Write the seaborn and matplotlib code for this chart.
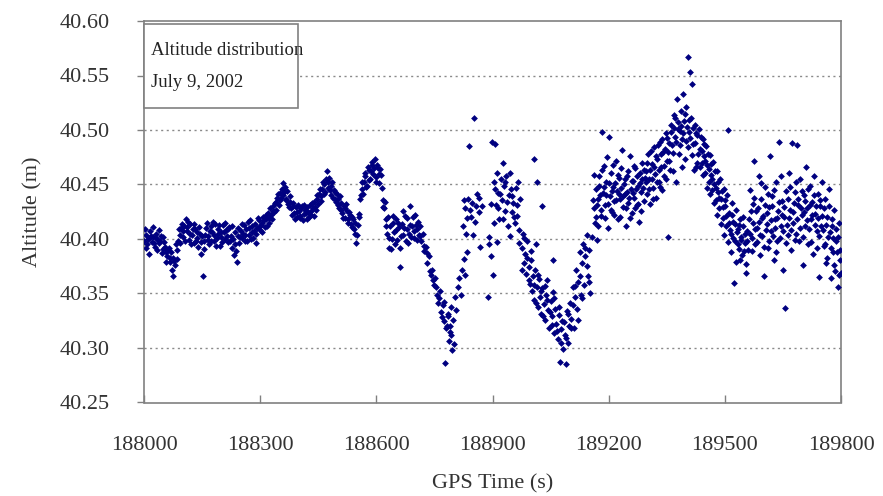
import matplotlib
matplotlib.use("Agg")
import matplotlib.pyplot as plt
import seaborn as sns
import pandas as pd
from matplotlib.ticker import FormatStrFormatter, FixedLocator
from matplotlib.patches import Rectangle

# ---- data (GPS time [s], altitude [m]) ----
t_a = [188000, 188004, 188008, 188012, 188016, 188020, 188024, 188028, 188032, 188036,
       188040, 188044, 188048, 188052, 188056, 188060, 188064, 188068, 188072, 188076,
       188080, 188084, 188088, 188092, 188096]
alt_a = [40.398, 40.404, 40.395, 40.401, 40.407, 40.397, 40.402, 40.393, 40.405, 40.399,
         40.396, 40.403, 40.391, 40.397, 40.388, 40.384, 40.392, 40.379, 40.372, 40.383,
         40.376, 40.390, 40.398, 40.404, 40.410]
t_a2 = [188002, 188006, 188010, 188014, 188018, 188022, 188026, 188030, 188034, 188038,
        188042, 188046, 188050, 188054, 188058, 188062, 188066, 188070, 188074, 188078,
        188082, 188086, 188090, 188094, 188098]
alt_a2 = [40.409, 40.392, 40.400, 40.386, 40.403, 40.411, 40.396, 40.401, 40.390, 40.408,
          40.398, 40.387, 40.402, 40.393, 40.379, 40.390, 40.383, 40.388, 40.366, 40.380,
          40.395, 40.382, 40.409, 40.396, 40.414]

t_b = [188100, 188104, 188108, 188112, 188116, 188120, 188124, 188128, 188132, 188136,
       188140, 188144, 188148, 188152, 188156, 188160, 188164, 188168, 188172, 188176,
       188180, 188184, 188188, 188192, 188196, 188200, 188204, 188208, 188212, 188216,
       188220, 188224, 188228, 188232, 188236, 188240, 188244, 188248, 188252, 188256,
       188260, 188264, 188268, 188272, 188276, 188280, 188284, 188288, 188292, 188296]
alt_b = [40.402, 40.412, 40.418, 40.407, 40.399, 40.414, 40.404, 40.396, 40.409, 40.401,
         40.393, 40.405, 40.386, 40.366, 40.398, 40.410, 40.403, 40.395, 40.412, 40.406,
         40.398, 40.414, 40.401, 40.409, 40.394, 40.406, 40.413, 40.400, 40.408, 40.397,
         40.411, 40.403, 40.392, 40.385, 40.406, 40.379, 40.410, 40.402, 40.414, 40.405,
         40.398, 40.409, 40.416, 40.404, 40.400, 40.412, 40.407, 40.396, 40.410, 40.417]
t_b2 = [188102, 188106, 188110, 188114, 188118, 188122, 188126, 188130, 188134, 188138,
        188142, 188146, 188150, 188154, 188158, 188162, 188166, 188170, 188174, 188178,
        188182, 188186, 188190, 188194, 188198, 188202, 188206, 188210, 188214, 188218,
        188222, 188226, 188230, 188234, 188238, 188242, 188246, 188250, 188254, 188258,
        188262, 188266, 188270, 188274, 188278, 188282, 188286, 188290, 188294, 188298]
alt_b2 = [40.407, 40.398, 40.411, 40.416, 40.405, 40.395, 40.409, 40.414, 40.398, 40.406,
          40.411, 40.397, 40.403, 40.391, 40.404, 40.415, 40.399, 40.407, 40.398, 40.416,
          40.404, 40.394, 40.405, 40.413, 40.402, 40.397, 40.406, 40.415, 40.403, 40.409,
          40.398, 40.412, 40.400, 40.395, 40.389, 40.403, 40.396, 40.407, 40.401, 40.413,
          40.404, 40.398, 40.410, 40.417, 40.406, 40.401, 40.414, 40.405, 40.419, 40.411]

t_c = [188300, 188304, 188308, 188312, 188316, 188320, 188324, 188328, 188332, 188336,
       188340, 188344, 188348, 188352, 188356, 188360, 188364, 188368, 188372, 188376,
       188380, 188384, 188388, 188392, 188396]
alt_c = [40.408, 40.415, 40.420, 40.411, 40.418, 40.424, 40.415, 40.422, 40.430, 40.425,
         40.434, 40.438, 40.431, 40.442, 40.446, 40.440, 40.448, 40.437, 40.432, 40.439,
         40.428, 40.433, 40.424, 40.429, 40.420]
t_c2 = [188302, 188306, 188310, 188314, 188318, 188322, 188326, 188330, 188334, 188338,
        188342, 188346, 188350, 188354, 188358, 188362, 188366, 188370, 188374, 188378,
        188382, 188386, 188390, 188394, 188398]
alt_c2 = [40.413, 40.406, 40.417, 40.422, 40.412, 40.419, 40.428, 40.418, 40.426, 40.433,
          40.427, 40.441, 40.436, 40.438, 40.451, 40.443, 40.436, 40.444, 40.429, 40.434,
          40.422, 40.430, 40.418, 40.425, 40.431]

t_d = [188400, 188404, 188408, 188412, 188416, 188420, 188424, 188428, 188432, 188436,
       188440, 188444, 188448, 188452, 188456, 188460, 188464, 188468, 188472, 188476,
       188480, 188484, 188488, 188492, 188496]
alt_d = [40.426, 40.419, 40.430, 40.423, 40.427, 40.418, 40.425, 40.431, 40.422, 40.428,
         40.434, 40.427, 40.437, 40.441, 40.435, 40.446, 40.450, 40.443, 40.462, 40.452,
         40.445, 40.449, 40.438, 40.443, 40.434]
t_d2 = [188402, 188406, 188410, 188414, 188418, 188422, 188426, 188430, 188434, 188438,
        188442, 188446, 188450, 188454, 188458, 188462, 188466, 188470, 188474, 188478,
        188482, 188486, 188490, 188494, 188498]
alt_d2 = [40.421, 40.428, 40.417, 40.431, 40.424, 40.429, 40.420, 40.426, 40.433, 40.421,
          40.429, 40.440, 40.432, 40.446, 40.439, 40.452, 40.441, 40.455, 40.447, 40.456,
          40.440, 40.452, 40.445, 40.437, 40.441]

t_e = [188500, 188504, 188508, 188512, 188516, 188520, 188524, 188528, 188532, 188536,
       188540, 188544, 188548, 188552, 188556]
alt_e = [40.437, 40.428, 40.433, 40.424, 40.430, 40.419, 40.426, 40.415, 40.422, 40.411,
         40.418, 40.405, 40.396, 40.413, 40.420]
t_e2 = [188502, 188506, 188510, 188514, 188518, 188522, 188526, 188530, 188534, 188538,
        188542, 188546, 188550, 188554, 188558]
alt_e2 = [40.431, 40.439, 40.427, 40.419, 40.428, 40.432, 40.418, 40.425, 40.414, 40.420,
          40.409, 40.415, 40.404, 40.423, 40.437]

t_f = [188560, 188564, 188568, 188572, 188576, 188580, 188584, 188588, 188592, 188596,
       188600, 188604, 188608, 188612]
alt_f = [40.440, 40.446, 40.452, 40.458, 40.449, 40.463, 40.455, 40.468, 40.460, 40.473,
         40.457, 40.465, 40.451, 40.459]
t_f2 = [188562, 188566, 188570, 188574, 188578, 188582, 188586, 188590, 188594, 188598,
        188602, 188606, 188610, 188614]
alt_f2 = [40.452, 40.441, 40.461, 40.448, 40.466, 40.454, 40.462, 40.471, 40.465, 40.452,
          40.468, 40.460, 40.464, 40.447]

t_g = [188616, 188620, 188624, 188628, 188632, 188636, 188640, 188644, 188648, 188652,
       188656, 188660, 188664, 188668, 188672, 188676, 188680, 188684, 188688, 188692,
       188696, 188700, 188704, 188708]
alt_g = [40.436, 40.428, 40.418, 40.405, 40.392, 40.412, 40.400, 40.421, 40.395, 40.408,
         40.415, 40.374, 40.403, 40.426, 40.410, 40.398, 40.419, 40.405, 40.430, 40.412,
         40.401, 40.422, 40.409, 40.416]
t_g2 = [188618, 188622, 188626, 188630, 188634, 188638, 188642, 188646, 188650, 188654,
        188658, 188662, 188666, 188670, 188674, 188678, 188682, 188686, 188690, 188694,
        188698, 188702, 188706, 188710]
alt_g2 = [40.429, 40.434, 40.412, 40.420, 40.401, 40.391, 40.415, 40.406, 40.418, 40.399,
          40.411, 40.392, 40.414, 40.404, 40.421, 40.409, 40.396, 40.413, 40.402, 40.420,
          40.407, 40.413, 40.399, 40.404]

t_h = [188712, 188716, 188720, 188724, 188728, 188732, 188736, 188740, 188744, 188748,
       188752, 188756, 188760, 188764, 188768, 188772, 188776, 188778, 188780, 188784,
       188788, 188792, 188796, 188800]
alt_h = [40.412, 40.398, 40.405, 40.389, 40.393, 40.378, 40.384, 40.367, 40.372, 40.358,
         40.364, 40.349, 40.341, 40.352, 40.333, 40.339, 40.325, 40.286, 40.318, 40.329,
         40.306, 40.312, 40.298, 40.304]
t_h2 = [188714, 188722, 188730, 188738, 188746, 188754, 188762, 188770, 188774, 188790]
alt_h2 = [40.403, 40.394, 40.387, 40.371, 40.362, 40.356, 40.346, 40.328, 40.342, 40.320]

t_i = [188782, 188786, 188790, 188794, 188798, 188802, 188806, 188810, 188814, 188818,
       188822, 188826, 188830, 188834]
alt_i = [40.320, 40.331, 40.315, 40.338, 40.326, 40.347, 40.335, 40.356, 40.364, 40.349,
         40.372, 40.382, 40.367, 40.388]

t_j = [188824, 188828, 188832, 188836, 188840, 188844, 188848, 188852, 188856, 188860,
       188864, 188868, 188872, 188826, 188834, 188842, 188850, 188858, 188866]
alt_j = [40.412, 40.428, 40.405, 40.437, 40.485, 40.420, 40.433, 40.511, 40.416, 40.441,
         40.425, 40.393, 40.430, 40.436, 40.419, 40.427, 40.404, 40.430, 40.438]

t_k = [188888, 188892, 188895, 188898, 188901, 188904, 188906, 188909, 188912, 188915,
       188918, 188921, 188924, 188927, 188930, 188933, 188936, 188939, 188942, 188945,
       188948, 188951, 188954, 188957, 188960, 188963, 188966, 188969, 188972,
       189007, 189015, 189028]
alt_k = [40.347, 40.395, 40.384, 40.489, 40.367, 40.452, 40.487, 40.431, 40.461, 40.442,
         40.418, 40.455, 40.436, 40.470, 40.449, 40.426, 40.458, 40.412, 40.440, 40.403,
         40.446, 40.425, 40.433, 40.415, 40.447, 40.421, 40.452, 40.408, 40.437,
         40.473, 40.452, 40.430]
t_k2 = [188890, 188897, 188903, 188907, 188911, 188914, 188920, 188926, 188932, 188938,
        188944, 188950, 188956, 188962, 188968]
alt_k2 = [40.402, 40.432, 40.415, 40.446, 40.397, 40.428, 40.441, 40.418, 40.452, 40.434,
          40.461, 40.439, 40.420, 40.431, 40.396]

t_l = [188975, 188978, 188981, 188984, 188987, 188990, 188993, 188996, 188999, 189002,
       189005, 189008, 189011, 189014, 189017, 189020, 189023, 189026, 189029, 189032,
       189035, 189038, 189041, 189044, 189047, 189050, 189053, 189056, 189059, 189062,
       189065, 189068, 189071, 189074, 189077, 189080, 189083, 189086, 189089, 189092,
       189095, 189098, 189101, 189104, 189107, 189110, 189113, 189116, 189119, 189122,
       189125, 189128, 189131, 189134, 189137, 189140, 189143, 189146, 189149, 189152]
alt_l = [40.392, 40.405, 40.378, 40.386, 40.368, 40.398, 40.374, 40.359, 40.381, 40.352,
         40.366, 40.344, 40.372, 40.356, 40.338, 40.363, 40.347, 40.331, 40.355, 40.340,
         40.326, 40.349, 40.362, 40.335, 40.318, 40.343, 40.329, 40.351, 40.314, 40.336,
         40.322, 40.308, 40.330, 40.287, 40.317, 40.325, 40.299, 40.312, 40.285, 40.334,
         40.305, 40.320, 40.341, 40.327, 40.356, 40.318, 40.347, 40.372, 40.336, 40.361,
         40.388, 40.349, 40.378, 40.395, 40.358, 40.384, 40.404, 40.366, 40.390, 40.350]
t_l2 = [188976, 188982, 188988, 188994, 189000, 189006, 189012, 189018, 189024, 189030,
        189036, 189042, 189048, 189054, 189060, 189066, 189072, 189078, 189084, 189090,
        189096, 189102, 189108, 189114, 189120, 189126, 189132, 189138, 189144, 189150,
        189055, 189013]
alt_l2 = [40.372, 40.401, 40.383, 40.362, 40.389, 40.358, 40.341, 40.367, 40.352, 40.329,
          40.357, 40.344, 40.333, 40.321, 40.346, 40.316, 40.338, 40.305, 40.324, 40.309,
          40.331, 40.318, 40.339, 40.357, 40.326, 40.366, 40.346, 40.392, 40.375, 40.361,
          40.381, 40.395]

t_m = [189158, 189161, 189164, 189167, 189170, 189173, 189176, 189179, 189182, 189185,
       189188, 189191, 189194, 189197, 189200, 189203, 189206, 189209, 189212, 189215,
       189218, 189221, 189224, 189227, 189230, 189233, 189236, 189239, 189242, 189245,
       189248, 189251, 189254, 189257, 189260, 189263, 189266, 189269, 189272, 189275,
       189278, 189281, 189284, 189287, 189290, 189293]
alt_m = [40.402, 40.428, 40.415, 40.446, 40.399, 40.437, 40.458, 40.421, 40.498, 40.442,
         40.467, 40.431, 40.452, 40.410, 40.494, 40.439, 40.461, 40.425, 40.448, 40.435,
         40.472, 40.444, 40.418, 40.456, 40.437, 40.465, 40.429, 40.450, 40.441, 40.412,
         40.458, 40.433, 40.476, 40.446, 40.424, 40.453, 40.438, 40.465, 40.431, 40.449,
         40.416, 40.461, 40.443, 40.470, 40.435, 40.456]
t_m2 = [189159, 189163, 189166, 189169, 189172, 189175, 189178, 189181, 189184, 189187,
        189190, 189193, 189196, 189199, 189202, 189205, 189208, 189211, 189214, 189217,
        189220, 189223, 189226, 189229, 189232, 189235, 189238, 189241, 189244, 189247,
        189250, 189253, 189256, 189259, 189262, 189265, 189268, 189271, 189274, 189277,
        189280, 189283, 189286, 189289, 189292]
alt_m2 = [40.436, 40.459, 40.420, 40.431, 40.412, 40.449, 40.440, 40.427, 40.463, 40.448,
          40.419, 40.440, 40.475, 40.432, 40.451, 40.427, 40.444, 40.468, 40.422, 40.451,
          40.436, 40.459, 40.441, 40.420, 40.447, 40.482, 40.439, 40.455, 40.428, 40.443,
          40.462, 40.438, 40.419, 40.453, 40.442, 40.467, 40.428, 40.446, 40.458, 40.432,
          40.451, 40.426, 40.455, 40.447, 40.463]

t_n = [189296, 189299, 189302, 189305, 189308, 189311, 189314, 189317, 189320, 189323,
       189326, 189329, 189332, 189335, 189338, 189341, 189344, 189347, 189350, 189353,
       189356, 189359, 189362, 189365, 189368, 189371, 189374, 189377, 189380, 189383,
       189386, 189389, 189392, 189395, 189398, 189401, 189404, 189407, 189410, 189413,
       189416, 189419, 189422, 189425, 189428, 189431]
alt_n = [40.462, 40.441, 40.478, 40.455, 40.432, 40.469, 40.447, 40.484, 40.460, 40.438,
         40.473, 40.452, 40.489, 40.466, 40.445, 40.480, 40.458, 40.497, 40.472, 40.402,
         40.488, 40.463, 40.505, 40.479, 40.514, 40.494, 40.452, 40.528, 40.501, 40.486,
         40.517, 40.492, 40.533, 40.508, 40.473, 40.521, 40.567, 40.498, 40.553, 40.511,
         40.542, 40.487, 40.505, 40.466, 40.495, 40.478]
t_n2 = [189297, 189300, 189303, 189306, 189309, 189312, 189315, 189318, 189321, 189324,
        189327, 189330, 189333, 189336, 189339, 189342, 189345, 189348, 189351, 189354,
        189357, 189360, 189363, 189366, 189369, 189372, 189375, 189378, 189381, 189384,
        189387, 189390, 189393, 189396, 189399, 189402, 189405, 189408, 189411, 189414,
        189417, 189420, 189423, 189426, 189429]
alt_n2 = [40.452, 40.470, 40.446, 40.463, 40.481, 40.455, 40.437, 40.466, 40.476, 40.452,
          40.486, 40.463, 40.448, 40.478, 40.492, 40.467, 40.483, 40.455, 40.493, 40.480,
          40.472, 40.498, 40.486, 40.462, 40.502, 40.511, 40.489, 40.507, 40.478, 40.499,
          40.504, 40.466, 40.497, 40.515, 40.490, 40.503, 40.484, 40.509, 40.493, 40.477,
          40.502, 40.463, 40.488, 40.497, 40.470]

t_o = [189434, 189437, 189440, 189443, 189446, 189449, 189452, 189455, 189458, 189461,
       189464, 189467, 189470, 189473, 189476, 189479, 189482, 189485, 189488, 189491,
       189494, 189497, 189500, 189503, 189506, 189509, 189512, 189515, 189518, 189521,
       189524, 189527, 189530, 189533, 189536, 189539, 189542, 189545, 189548, 189551,
       189554, 189557, 189560]
alt_o = [40.501, 40.483, 40.470, 40.492, 40.476, 40.461, 40.485, 40.468, 40.452, 40.477,
         40.459, 40.445, 40.471, 40.450, 40.436, 40.462, 40.443, 40.428, 40.455, 40.437,
         40.419, 40.446, 40.430, 40.412, 40.440, 40.500, 40.424, 40.405, 40.433, 40.416,
         40.360, 40.398, 40.427, 40.409, 40.391, 40.418, 40.402, 40.385, 40.412, 40.396,
         40.377, 40.407, 40.390]
t_o2 = [189435, 189438, 189441, 189444, 189447, 189450, 189453, 189456, 189459, 189462,
        189465, 189468, 189471, 189474, 189477, 189480, 189483, 189486, 189489, 189492,
        189495, 189498, 189501, 189504, 189507, 189510, 189513, 189516, 189519, 189522,
        189525, 189528, 189531, 189534, 189537, 189540, 189543, 189546, 189549, 189552,
        189555, 189558]
alt_o2 = [40.466, 40.494, 40.481, 40.459, 40.487, 40.472, 40.447, 40.478, 40.464, 40.441,
          40.469, 40.455, 40.433, 40.462, 40.447, 40.422, 40.452, 40.438, 40.414, 40.444,
          40.429, 40.404, 40.436, 40.421, 40.397, 40.415, 40.408, 40.388, 40.422, 40.401,
          40.414, 40.379, 40.406, 40.395, 40.413, 40.381, 40.399, 40.420, 40.389, 40.405,
          40.369, 40.398]

t_p = [189563, 189566, 189569, 189572, 189575, 189578, 189581, 189584, 189587, 189590,
       189593, 189596, 189599, 189602, 189605, 189608, 189611, 189614, 189617, 189620,
       189623, 189626, 189629, 189632, 189635, 189638, 189641, 189644, 189647, 189650,
       189653, 189656, 189659, 189662, 189665, 189668, 189671, 189674, 189677, 189680,
       189683, 189686, 189689, 189692, 189695, 189698, 189701, 189704, 189707, 189710,
       189713, 189716, 189719, 189722, 189725, 189728, 189731, 189734, 189737, 189740,
       189743, 189746, 189749, 189752, 189755, 189758, 189761, 189764, 189767, 189770,
       189773, 189776, 189779, 189782, 189785, 189788, 189791, 189794, 189797, 189800]
alt_p = [40.418, 40.445, 40.401, 40.432, 40.472, 40.395, 40.426, 40.410, 40.458, 40.385,
         40.437, 40.403, 40.421, 40.366, 40.448, 40.414, 40.392, 40.429, 40.476, 40.407,
         40.439, 40.381, 40.418, 40.452, 40.398, 40.426, 40.489, 40.412, 40.435, 40.372,
         40.420, 40.337, 40.444, 40.404, 40.461, 40.427, 40.390, 40.488, 40.415, 40.443,
         40.405, 40.486, 40.431, 40.398, 40.455, 40.422, 40.376, 40.440, 40.412, 40.466,
         40.428, 40.395, 40.449, 40.418, 40.434, 40.386, 40.458, 40.423, 40.407, 40.441,
         40.365, 40.430, 40.412, 40.452, 40.394, 40.437, 40.378, 40.420, 40.402, 40.446,
         40.364, 40.412, 40.388, 40.427, 40.371, 40.398, 40.356, 40.415, 40.381, 40.369]
t_p2 = [189564, 189567, 189570, 189573, 189576, 189579, 189582, 189585, 189588, 189591,
        189594, 189597, 189600, 189603, 189606, 189609, 189612, 189615, 189618, 189621,
        189624, 189627, 189630, 189633, 189636, 189639, 189642, 189645, 189648, 189651,
        189654, 189657, 189660, 189663, 189666, 189669, 189672, 189675, 189678, 189681,
        189684, 189687, 189690, 189693, 189696, 189699, 189702, 189705, 189708, 189711,
        189714, 189717, 189720, 189723, 189726, 189729, 189732, 189735, 189738, 189741,
        189744, 189747, 189750, 189753, 189756, 189759, 189762, 189765, 189768, 189771,
        189774, 189777, 189780, 189783, 189786, 189789, 189792, 189795, 189798]
alt_p2 = [40.405, 40.426, 40.389, 40.415, 40.438, 40.409, 40.397, 40.428, 40.416, 40.404,
          40.451, 40.419, 40.393, 40.431, 40.408, 40.424, 40.441, 40.398, 40.417, 40.430,
          40.403, 40.445, 40.410, 40.388, 40.419, 40.434, 40.401, 40.458, 40.422, 40.407,
          40.429, 40.396, 40.413, 40.437, 40.419, 40.448, 40.408, 40.425, 40.433, 40.399,
          40.452, 40.418, 40.437, 40.410, 40.428, 40.444, 40.402, 40.425, 40.435, 40.417,
          40.446, 40.409, 40.431, 40.397, 40.422, 40.440, 40.413, 40.430, 40.392, 40.419,
          40.403, 40.436, 40.421, 40.408, 40.428, 40.395, 40.413, 40.383, 40.430, 40.406,
          40.392, 40.418, 40.401, 40.376, 40.409, 40.388, 40.402, 40.367, 40.390]

x_ticks = [188000, 188300, 188600, 188900, 189200, 189500, 189800]
y_ticks = [40.25, 40.30, 40.35, 40.40, 40.45, 40.50, 40.55, 40.60]
box_lines = ["Altitude distribution", "July 9, 2002"]

# ---- build table ----
times = (t_a + t_a2 + t_b + t_b2 + t_c + t_c2 + t_d + t_d2 + t_e + t_e2 + t_f + t_f2
         + t_g + t_g2 + t_h + t_h2 + t_i + t_j + t_k + t_k2 + t_l + t_l2
         + t_m + t_m2 + t_n + t_n2 + t_o + t_o2 + t_p + t_p2)
alts = (alt_a + alt_a2 + alt_b + alt_b2 + alt_c + alt_c2 + alt_d + alt_d2 + alt_e
        + alt_e2 + alt_f + alt_f2 + alt_g + alt_g2 + alt_h + alt_h2 + alt_i + alt_j
        + alt_k + alt_k2 + alt_l + alt_l2 + alt_m + alt_m2 + alt_n + alt_n2
        + alt_o + alt_o2 + alt_p + alt_p2)
df = pd.DataFrame({"GPS Time (s)": times, "Altitude (m)": alts})

sns.set_theme(style="white")
plt.rcParams["font.family"] = ["Liberation Serif", "DejaVu Serif"]

fig = plt.figure(figsize=(8.83, 4.96), dpi=100)
ax = fig.add_axes([144 / 883, 1 - 402.5 / 496, (841 - 144) / 883, (402.5 - 21) / 496])

sns.scatterplot(data=df, x="GPS Time (s)", y="Altitude (m)", ax=ax,
                color="#000080", marker="D", s=12, linewidth=0, zorder=3)

ax.set_xlim(188000, 189800)
ax.set_ylim(40.25, 40.60)
ax.xaxis.set_major_locator(FixedLocator(x_ticks))
ax.yaxis.set_major_locator(FixedLocator(y_ticks))
ax.yaxis.set_major_formatter(FormatStrFormatter("%.2f"))
ax.set_xticklabels([str(v) for v in x_ticks])

for y in y_ticks[1:-1]:
    ax.axhline(y, color="#8a8a8a", linestyle=(0, (1.5, 2.5)), linewidth=1.0, zorder=1)

for side in ["left", "right", "top", "bottom"]:
    ax.spines[side].set_visible(True)
    ax.spines[side].set_color("#808080")
    ax.spines[side].set_linewidth(1.2)

ax.tick_params(axis="y", direction="out", length=5, width=1, color="#808080",
               labelsize=16, labelcolor="#333333", pad=20, left=True)
ax.tick_params(axis="x", direction="in", length=6, width=1, color="#808080",
               labelsize=16, labelcolor="#333333", pad=24, bottom=True)

ax.set_xlabel("GPS Time (s)", fontsize=16, color="#333333", labelpad=14)
ax.set_ylabel("Altitude (m)", fontsize=16, color="#333333", labelpad=12)

# annotation box (top-left)
ax.add_patch(Rectangle((0.0, 0.772), 0.221, 0.22, transform=ax.transAxes,
                       facecolor="white", edgecolor="#808080", linewidth=1.2,
                       zorder=5, clip_on=False))
ax.text(0.010, 0.922, box_lines[0], transform=ax.transAxes, fontsize=13.5,
        color="#222222", va="center", ha="left", zorder=6)
ax.text(0.010, 0.838, box_lines[1], transform=ax.transAxes, fontsize=13.5,
        color="#222222", va="center", ha="left", zorder=6)

fig.savefig("out.png", dpi=100)
